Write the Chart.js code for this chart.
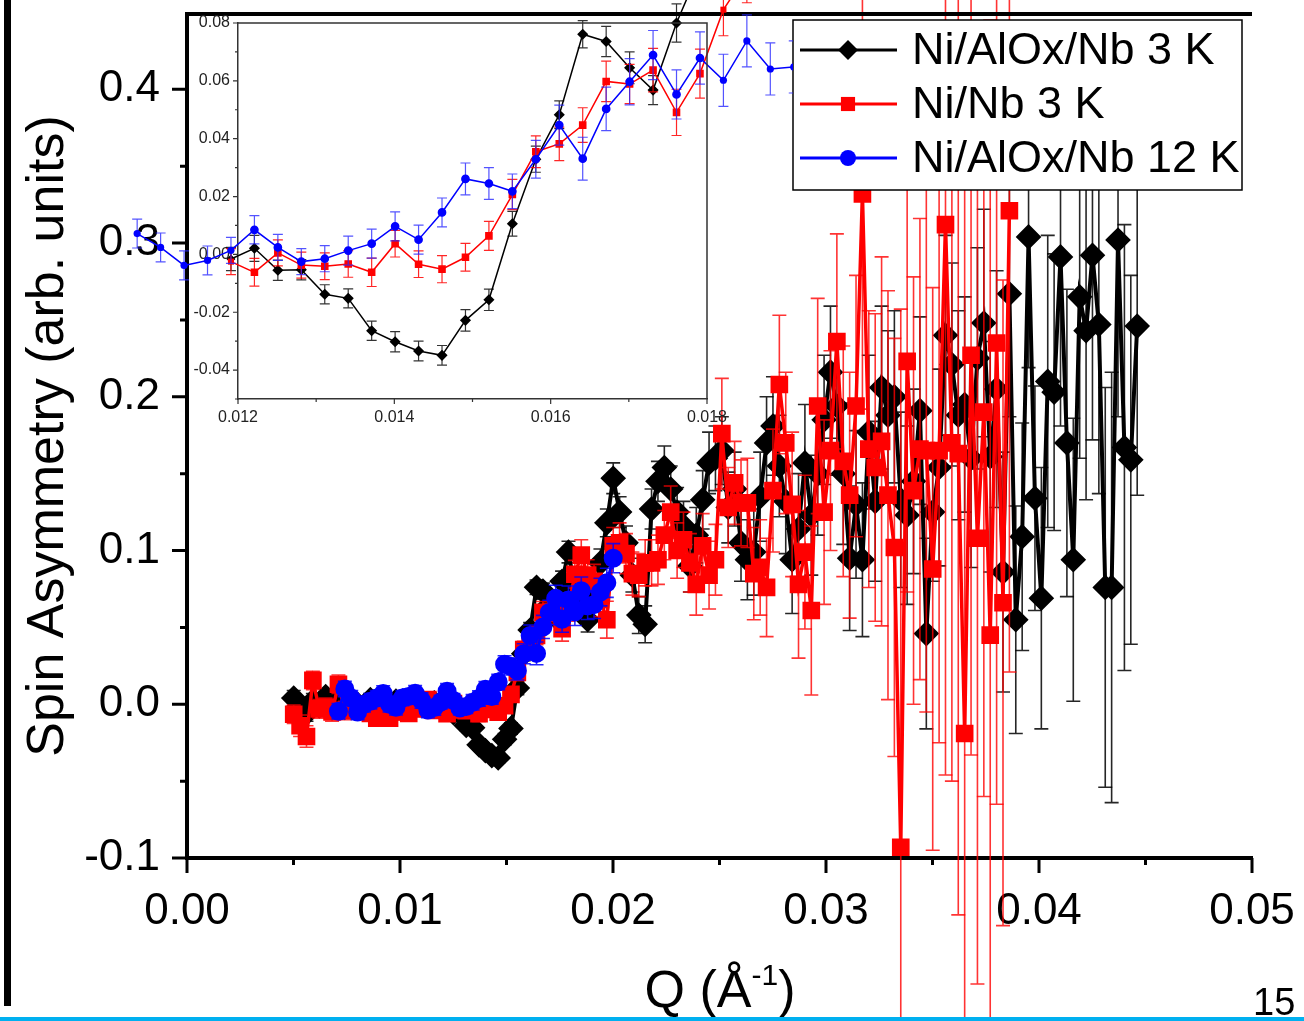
<!DOCTYPE html>
<html>
<head>
<meta charset="utf-8">
<title>Spin asymmetry vs Q</title>
<script src="https://cdn.jsdelivr.net/npm/chart.js@4.4.1/dist/chart.umd.min.js"></script>
<style>
  html, body { margin: 0; padding: 0; background: #fff; }
  body { width: 1304px; height: 1021px; position: relative; overflow: hidden; font-family: "Liberation Sans", Arial, sans-serif; }
  #mainChart { position: absolute; left: 0; top: 0; }
  #insetChart { position: absolute; left: 100px; top: 0; }
  .slide-bar { position: absolute; left: 4px; top: 0; width: 7px; height: 1006px; background: #000; }
  .slide-rule { position: absolute; left: 0; top: 1017px; width: 1304px; height: 4px; background: #00b0f0; }
  .x-title { position: absolute; left: 570px; top: 963px; width: 300px; text-align: center; font-size: 52px; line-height: 52px; color: #000; }
  .x-title sup { font-size: 30px; line-height: 0; position: relative; top: -4px; vertical-align: super; }
  .page-num { position: absolute; left: 1253px; top: 983px; font-size: 38px; line-height: 38px; color: #000; }
</style>
</head>
<body>
<div class="slide-bar"></div>
<canvas id="mainChart" width="1304" height="1021"></canvas>
<canvas id="insetChart" width="693" height="440"></canvas>
<div class="x-title">Q (Å<sup>-1</sup>)</div>
<div class="page-num">15</div>
<div class="slide-rule"></div>
<script>
// Q grid (1/Å) shared by all three scans
const qValues = [
  0.00501, 0.00531, 0.00561, 0.00591, 0.00621, 0.00651, 0.00681, 0.00711, 0.00741, 0.00771,
  0.00801, 0.00831, 0.00861, 0.00891, 0.00921, 0.00951, 0.00981, 0.01011, 0.01041, 0.01071,
  0.01101, 0.01131, 0.01161, 0.01191, 0.01221, 0.01251, 0.01281, 0.01311, 0.01341, 0.01371,
  0.01401, 0.01431, 0.01461, 0.01491, 0.01521, 0.01551, 0.01581, 0.01611, 0.01641, 0.01671,
  0.01701, 0.01731, 0.01761, 0.01791, 0.01821, 0.01851, 0.01881, 0.01911, 0.01941, 0.01971,
  0.02001, 0.02031, 0.02061, 0.02091, 0.02121, 0.02151, 0.02181, 0.02211, 0.02241, 0.02271,
  0.02301, 0.02331, 0.02361, 0.02391, 0.02421, 0.02451, 0.02481, 0.02511, 0.02541, 0.02571,
  0.02601, 0.02631, 0.02661, 0.02691, 0.02721, 0.02751, 0.02781, 0.02811, 0.02841, 0.02871,
  0.02901, 0.02931, 0.02961, 0.02991, 0.03021, 0.03051, 0.03081, 0.03111, 0.03141, 0.03171,
  0.03201, 0.03231, 0.03261, 0.03291, 0.03321, 0.03351, 0.03381, 0.03411, 0.03441, 0.03471,
  0.03501, 0.03531, 0.03561, 0.03591, 0.03621, 0.03651, 0.03681, 0.03711, 0.03741, 0.03771,
  0.03801, 0.03831, 0.03861, 0.03891, 0.03921, 0.03951, 0.03981, 0.04011, 0.04041, 0.04071,
  0.04101, 0.04131, 0.04161, 0.04191, 0.04221, 0.04251, 0.04281, 0.04311, 0.04341, 0.04371,
  0.04401, 0.04431, 0.04461
];

// Ni/AlOx/Nb 3 K
const blackAsym = [
  0.004, -0.004, -0.006, 0.002, -0.001, 0.005, 0.003, 0.001, -0.002, 0.002,
  0.000, -0.001, 0.003, 0.001, -0.002, 0.001, 0.002, 0.000, -0.002, 0.001,
  0.002, -0.001, 0.001, -0.0016, 0.0021, -0.0055, -0.0053, -0.0138, -0.0152, -0.0264,
  -0.0302, -0.0334, -0.0349, -0.0228, -0.0157, 0.0106, 0.0329, 0.0483, 0.0761, 0.0736,
  0.0645, 0.0568, 0.0800, 0.099, 0.075, 0.064, 0.055, 0.070, 0.092, 0.118,
  0.147, 0.125, 0.105, 0.084, 0.058, 0.052, 0.127, 0.145, 0.154, 0.140,
  0.125, 0.116, 0.090, 0.110, 0.133, 0.157, 0.160, 0.165, 0.128, 0.140,
  0.105, 0.094, 0.099, 0.135, 0.170, 0.181, 0.155, 0.132, 0.094, 0.114,
  0.157, 0.123, 0.150, 0.185, 0.216, 0.194, 0.150, 0.095, 0.130, 0.094,
  0.177, 0.132, 0.206, 0.188, 0.200, 0.133, 0.123, 0.145, 0.191, 0.046,
  0.125, 0.154, 0.240, 0.221, 0.188, 0.195, 0.160, 0.225, 0.248, 0.161,
  0.205, 0.086, 0.267, 0.055, 0.109, 0.304, 0.134, 0.069, 0.210, 0.203,
  0.291, 0.170, 0.094, 0.265, 0.243, 0.292, 0.247, 0.076, 0.076, 0.302,
  0.167, 0.159, 0.246
];
const blackErr = [
  0.005, 0.005, 0.005, 0.005, 0.005, 0.005, 0.005, 0.005, 0.005, 0.005,
  0.004, 0.004, 0.004, 0.004, 0.004, 0.004, 0.004, 0.004, 0.004, 0.004,
  0.004, 0.004, 0.004, 0.0040, 0.0045, 0.0035, 0.0035, 0.0033, 0.0033, 0.0033,
  0.0035, 0.0034, 0.0034, 0.0037, 0.0037, 0.0043, 0.0045, 0.0048, 0.0047, 0.0052,
  0.0055, 0.0050, 0.0066, 0.007, 0.007, 0.008, 0.008, 0.008, 0.009, 0.009,
  0.010, 0.010, 0.011, 0.011, 0.012, 0.012, 0.013, 0.013, 0.014, 0.015,
  0.016, 0.016, 0.017, 0.018, 0.019, 0.020, 0.021, 0.022, 0.023, 0.024,
  0.025, 0.026, 0.028, 0.029, 0.030, 0.032, 0.033, 0.034, 0.035, 0.036,
  0.038, 0.039, 0.040, 0.042, 0.043, 0.045, 0.046, 0.047, 0.048, 0.050,
  0.050, 0.052, 0.053, 0.055, 0.056, 0.057, 0.058, 0.060, 0.061, 0.062,
  0.045, 0.064, 0.065, 0.066, 0.068, 0.070, 0.071, 0.072, 0.074, 0.075,
  0.077, 0.078, 0.080, 0.074, 0.074, 0.085, 0.073, 0.085, 0.095, 0.090,
  0.110, 0.100, 0.092, 0.105, 0.110, 0.120, 0.110, 0.130, 0.140, 0.115,
  0.145, 0.120, 0.110
];

// Ni/Nb 3 K
const redAsym = [
  -0.0065, -0.014, -0.021, 0.0155, -0.003, -0.002, -0.005, 0.013, -0.004, 0.001,
  -0.003, -0.001, -0.006, -0.009, -0.004, -0.009, -0.002, -0.005, -0.006, 0.000,
  -0.003, 0.003, -0.004, -0.0025, -0.0062, 0.0005, -0.0037, -0.0041, -0.0033, -0.0062,
  0.0037, -0.0034, -0.0051, -0.0010, 0.0064, 0.0207, 0.0355, 0.0382, 0.0447, 0.0598,
  0.0589, 0.0637, 0.0491, 0.0625, 0.0846, 0.097, 0.084, 0.080, 0.068, 0.055,
  0.103, 0.105, 0.098, 0.085, 0.084, 0.092, 0.092, 0.094, 0.110, 0.125,
  0.100, 0.107, 0.092, 0.078, 0.103, 0.084, 0.094, 0.176, 0.128, 0.144,
  0.131, 0.131, 0.085, 0.089, 0.076, 0.139, 0.208, 0.170, 0.130, 0.078,
  0.099, 0.061, 0.194, 0.125, 0.165, 0.236, 0.158, 0.136, 0.194, 0.332,
  0.166, 0.154, 0.171, 0.136, 0.102, -0.093, 0.223, 0.139, 0.166, 0.165,
  0.088, 0.165, 0.312, 0.170, 0.163, -0.019, 0.227, 0.108, 0.190, 0.045,
  0.235, 0.066, 0.321
];
const redErr = [
  0.006, 0.007, 0.007, 0.006, 0.006, 0.006, 0.006, 0.006, 0.006, 0.005,
  0.005, 0.005, 0.005, 0.005, 0.005, 0.005, 0.005, 0.005, 0.005, 0.005,
  0.005, 0.005, 0.005, 0.0045, 0.0048, 0.0045, 0.0045, 0.0046, 0.0046, 0.0049,
  0.0046, 0.0046, 0.0047, 0.0048, 0.0050, 0.0052, 0.0055, 0.0058, 0.0060, 0.0070,
  0.0068, 0.0075, 0.0080, 0.0085, 0.0090, 0.010, 0.010, 0.011, 0.011, 0.012,
  0.012, 0.013, 0.013, 0.014, 0.014, 0.015, 0.015, 0.016, 0.016, 0.017,
  0.018, 0.018, 0.019, 0.020, 0.021, 0.022, 0.023, 0.036, 0.026, 0.027,
  0.028, 0.029, 0.030, 0.031, 0.032, 0.040, 0.045, 0.046, 0.047, 0.048,
  0.050, 0.055, 0.070, 0.060, 0.065, 0.070, 0.075, 0.080, 0.085, 0.140,
  0.090, 0.100, 0.120, 0.133, 0.136, 0.350, 0.150, 0.139, 0.150, 0.170,
  0.183, 0.190, 0.358, 0.220, 0.300, 0.420, 0.260, 0.290, 0.250, 0.400,
  0.300, 0.210, 0.300
];

// Ni/AlOx/Nb 12 K starts at qValues[7]
const blueStart = 7;
const blueAsym = [
  -0.0045, 0.010, 0.004, -0.005, 0.000, 0.002, 0.004, 0.007, 0.000, -0.002,
  0.004, 0.005, 0.0072, 0.0024, -0.0038, -0.0021, 0.0014, 0.0085, 0.0024, -0.0025,
  -0.0015, 0.0013, 0.0037, 0.0097, 0.0051, 0.0145, 0.0261, 0.0245, 0.0218, 0.0329,
  0.0447, 0.0331, 0.0503, 0.0597, 0.0689, 0.0553, 0.0679, 0.0602, 0.0738, 0.0641,
  0.0648, 0.073, 0.079, 0.095
];
const blueErr = [
  0.005, 0.005, 0.005, 0.005, 0.005, 0.005, 0.005, 0.005, 0.005, 0.005,
  0.005, 0.005, 0.005, 0.005, 0.005, 0.005, 0.0045, 0.0049, 0.0045, 0.0045,
  0.0045, 0.0050, 0.0050, 0.0050, 0.0050, 0.0050, 0.0055, 0.0055, 0.0060, 0.0065,
  0.0069, 0.0074, 0.0075, 0.0080, 0.0085, 0.0085, 0.0090, 0.0090, 0.0090, 0.0090,
  0.0090, 0.0090, 0.0095, 0.0095
];

const seriesLabels = ['Ni/AlOx/Nb 3 K', 'Ni/Nb 3 K', 'Ni/AlOx/Nb 12 K'];

// axis ticks
const xTickValues = [0, 0.01, 0.02, 0.03, 0.04, 0.05];
const xMinorTicks = [0.005, 0.015, 0.025, 0.035, 0.045];
const yTickValues = [-0.1, 0, 0.1, 0.2, 0.3, 0.4];
const yMinorTicks = [-0.05, 0.05, 0.15, 0.25, 0.35];
const insetXTicks = [0.012, 0.014, 0.016, 0.018];
const insetXMinor = [0.013, 0.015, 0.017];
const insetYTicks = [-0.04, -0.02, 0, 0.02, 0.04, 0.06, 0.08];
const insetYMinor = [-0.05, -0.03, -0.01, 0.01, 0.03, 0.05, 0.07];

// points for q indices from..to (inclusive); vals[0] belongs to q index start
function pick(vals, errs, start, from, to) {
  const data = [], errors = [];
  for (let i = from; i <= to; i++) {
    data.push({ x: qValues[i], y: vals[i - start] });
    errors.push(errs[i - start]);
  }
  return { data, errors };
}

const errorBars = {
  id: 'errorBars',
  beforeDatasetDraw(chart, args, opts) {
    const ds = chart.data.datasets[args.index];
    if (!ds.errors) return;
    const ctx = chart.ctx, y = chart.scales.y;
    ctx.save();
    ctx.strokeStyle = ds.errorColor;
    ctx.lineWidth = opts.width;
    args.meta.data.forEach((pt, j) => {
      const v = ds.data[j].y, e = ds.errors[j];
      const top = y.getPixelForValue(v + e), bot = y.getPixelForValue(v - e);
      ctx.beginPath();
      ctx.moveTo(pt.x, top); ctx.lineTo(pt.x, bot);
      ctx.moveTo(pt.x - opts.cap, top); ctx.lineTo(pt.x + opts.cap, top);
      ctx.moveTo(pt.x - opts.cap, bot); ctx.lineTo(pt.x + opts.cap, bot);
      ctx.stroke();
    });
    ctx.restore();
  }
};

function drawMarker(ctx, style, x, y, r) {
  ctx.beginPath();
  if (style === 'circle') ctx.arc(x, y, r, 0, Math.PI * 2);
  else if (style === 'rect') { const h = r * Math.SQRT1_2; ctx.rect(x - h, y - h, 2 * h, 2 * h); }
  else { ctx.moveTo(x - r, y); ctx.lineTo(x, y - r); ctx.lineTo(x + r, y); ctx.lineTo(x, y + r); ctx.closePath(); }
  ctx.fill();
}

// Chart.js skips markers outside the chart area; the inset needs them
const spillMarkers = {
  id: 'spillMarkers',
  afterDatasetDraw(chart, args) {
    const a = chart.chartArea, ds = chart.data.datasets[args.index], ctx = chart.ctx;
    ctx.save();
    ctx.fillStyle = ds.pointBackgroundColor;
    args.meta.data.forEach(pt => {
      if (pt.x >= a.left && pt.x <= a.right && pt.y >= a.top && pt.y <= a.bottom) return;
      drawMarker(ctx, ds.pointStyle, pt.x, pt.y, ds.pointRadius);
    });
    ctx.restore();
  }
};

// outward tick marks + extra frame sides
const frame = {
  id: 'frame',
  afterDraw(chart, args, o) {
    const { ctx, chartArea: a, scales: { x, y } } = chart;
    ctx.save();
    ctx.strokeStyle = o.color;
    ctx.lineWidth = o.tickWidth;
    ctx.beginPath();
    const xt = (vals, len) => vals.forEach(v => { const p = x.getPixelForValue(v); ctx.moveTo(p, a.bottom); ctx.lineTo(p, a.bottom + len); });
    const yt = (vals, len) => vals.forEach(v => { const p = y.getPixelForValue(v); ctx.moveTo(a.left, p); ctx.lineTo(a.left - len, p); });
    xt(o.xMajor, o.majorLen); xt(o.xMinor, o.minorLen);
    yt(o.yMajor, o.majorLen); yt(o.yMinor, o.minorLen);
    ctx.stroke();
    ctx.lineWidth = o.boxWidth;
    ctx.beginPath();
    ctx.moveTo(a.left, a.top); ctx.lineTo(a.right, a.top);
    if (o.rightSide) ctx.lineTo(a.right, a.bottom);
    ctx.stroke();
    ctx.restore();
  }
};

const boxLegend = {
  id: 'boxLegend',
  afterDraw(chart, args, o) {
    const ctx = chart.ctx;
    ctx.save();
    ctx.fillStyle = '#fff';
    ctx.fillRect(o.left, o.top, o.width, o.height);
    ctx.strokeStyle = '#000';
    ctx.lineWidth = 1.5;
    ctx.strokeRect(o.left, o.top, o.width, o.height);
    chart.data.datasets.forEach((ds, i) => {
      const cy = o.top + o.firstRow + i * o.rowGap;
      ctx.strokeStyle = ds.borderColor;
      ctx.lineWidth = 3;
      ctx.beginPath();
      ctx.moveTo(o.left + 7, cy); ctx.lineTo(o.left + 104, cy);
      ctx.stroke();
      ctx.fillStyle = ds.pointBackgroundColor;
      drawMarker(ctx, ds.pointStyle, o.left + 55, cy, o.markerRadius[i]);
      ctx.fillStyle = '#000';
      ctx.font = o.font;
      ctx.textBaseline = 'middle';
      ctx.fillText(ds.label, o.left + 119, cy + 2);
    });
    ctx.restore();
  }
};

const tickFont = { family: '"Liberation Sans", Arial, sans-serif', size: 44 };
const noPad = s => { s.paddingTop = 0; s.paddingBottom = 0; s.paddingLeft = 0; s.paddingRight = 0; };

const bk = pick(blackAsym, blackErr, 0, 0, 132);
const rd = pick(redAsym, redErr, 0, 0, 112);
const bl = pick(blueAsym, blueErr, blueStart, 7, 50);

new Chart(document.getElementById('mainChart'), {
  type: 'line',
  data: {
    datasets: [
      { label: seriesLabels[0], data: bk.data, errors: bk.errors, errorColor: 'rgba(0,0,0,0.85)',
        borderColor: '#000', backgroundColor: '#000', borderWidth: 4,
        pointStyle: 'rectRot', pointRadius: 10, pointBackgroundColor: '#000', pointBorderColor: '#000', order: 3 },
      { label: seriesLabels[1], data: rd.data, errors: rd.errors, errorColor: 'rgba(255,0,0,0.8)',
        borderColor: '#ff0000', backgroundColor: '#ff0000', borderWidth: 3.5,
        pointStyle: 'rect', pointRadius: 10, pointBackgroundColor: '#ff0000', pointBorderColor: '#ff0000', order: 2 },
      { label: seriesLabels[2], data: bl.data, errors: bl.errors, errorColor: 'rgba(0,0,255,0.85)',
        borderColor: '#0000ff', backgroundColor: '#0000ff', borderWidth: 3,
        pointStyle: 'circle', pointRadius: 8, pointBackgroundColor: '#0000ff', pointBorderColor: '#0000ff', order: 1 }
    ]
  },
  options: {
    responsive: false,
    animation: false,
    devicePixelRatio: 1,
    layout: { padding: { left: 0, right: 52, top: 9, bottom: 0 } },
    plugins: {
      legend: { display: false },
      tooltip: { enabled: false },
      errorBars: { width: 1.6, cap: 7 },
      frame: { color: '#000', tickWidth: 3, majorLen: 15, minorLen: 7, boxWidth: 4, rightSide: false,
               xMajor: xTickValues, xMinor: xMinorTicks, yMajor: yTickValues, yMinor: yMinorTicks },
      boxLegend: { left: 793, top: 20, width: 449, height: 170, firstRow: 30, rowGap: 54,
                   markerRadius: [10, 10, 8], font: '45px "Liberation Sans", Arial, sans-serif' }
    },
    scales: {
      x: {
        type: 'linear', min: 0, max: 0.05,
        afterBuildTicks: s => { s.ticks = xTickValues.map(v => ({ value: v })); },
        afterFit: s => { s.height = 163; noPad(s); },
        grid: { display: false, drawTicks: false },
        border: { display: true, color: '#000', width: 4 },
        ticks: { padding: 27, color: '#000', font: tickFont, maxRotation: 0, autoSkip: false,
                 callback: v => v.toFixed(2) }
      },
      y: {
        type: 'linear', min: -0.1, max: 0.449,
        afterBuildTicks: s => { s.ticks = yTickValues.map(v => ({ value: v })); },
        afterFit: s => { s.width = 187; noPad(s); },
        grid: { display: false, drawTicks: false },
        border: { display: true, color: '#000', width: 4 },
        ticks: { padding: 27, color: '#000', font: tickFont, autoSkip: false,
                 callback: v => v.toFixed(1) },
        title: { display: true, text: 'Spin Asymmetry (arb. units)', color: '#000',
                 font: { family: '"Liberation Sans", Arial, sans-serif', size: 52 }, padding: { top: 17, bottom: 0 } }
      }
    }
  },
  plugins: [errorBars, frame, boxLegend]
});

// inset: zoom on the low-Q region; its points may spill past the frame
const ibk = pick(blackAsym, blackErr, 0, 23, 43);
const ird = pick(redAsym, redErr, 0, 23, 45);
const ibl = pick(blueAsym, blueErr, blueStart, 19, 50);
const insetFont = { family: '"Liberation Sans", Arial, sans-serif', size: 16 };

new Chart(document.getElementById('insetChart'), {
  type: 'line',
  data: {
    datasets: [
      { data: ibk.data, errors: ibk.errors, errorColor: 'rgba(0,0,0,0.8)', clip: false,
        borderColor: '#000', borderWidth: 1.5, pointStyle: 'rectRot', pointRadius: 4.5,
        pointBackgroundColor: '#000', pointBorderColor: '#000', order: 3 },
      { data: ird.data, errors: ird.errors, errorColor: 'rgba(255,0,0,0.85)', clip: false,
        borderColor: '#ff0000', borderWidth: 1.5, pointStyle: 'rect', pointRadius: 4.3,
        pointBackgroundColor: '#ff0000', pointBorderColor: '#ff0000', order: 2 },
      { data: ibl.data, errors: ibl.errors, errorColor: 'rgba(40,40,255,0.8)', clip: false,
        borderColor: '#0000ff', borderWidth: 1.5, pointStyle: 'circle', pointRadius: 3.6,
        pointBackgroundColor: '#0000ff', pointBorderColor: '#0000ff', order: 1 }
    ]
  },
  options: {
    responsive: false,
    animation: false,
    devicePixelRatio: 1,
    layout: { padding: { left: 0, right: 86, top: 23, bottom: 0 } },
    plugins: {
      legend: { display: false },
      tooltip: { enabled: false },
      errorBars: { width: 1.2, cap: 5 },
      frame: { color: '#333', tickWidth: 1.2, majorLen: 5, minorLen: 3, boxWidth: 1.5, rightSide: true,
               xMajor: insetXTicks, xMinor: insetXMinor, yMajor: insetYTicks, yMinor: insetYMinor }
    },
    scales: {
      x: {
        type: 'linear', bounds: 'data',
        // range set after data limits so points outside the frame are still drawn
        afterDataLimits: s => { s.min = 0.012; s.max = 0.018; },
        afterBuildTicks: s => { s.ticks = insetXTicks.map(v => ({ value: v })); },
        afterFit: s => { s.height = 41; noPad(s); },
        grid: { display: false, drawTicks: false },
        border: { display: true, color: '#333', width: 1.5 },
        ticks: { padding: 9, color: '#222', font: insetFont, maxRotation: 0, autoSkip: false,
                 callback: v => v.toFixed(3) }
      },
      y: {
        type: 'linear', min: -0.05, max: 0.08,
        afterBuildTicks: s => { s.ticks = insetYTicks.map(v => ({ value: v })); },
        afterFit: s => { s.width = 138; noPad(s); },
        grid: { display: false, drawTicks: false },
        border: { display: true, color: '#333', width: 1.5 },
        ticks: { padding: 8, color: '#222', font: insetFont, autoSkip: false,
                 callback: v => v.toFixed(2) }
      }
    }
  },
  plugins: [errorBars, spillMarkers, frame]
});
</script>
</body>
</html>
